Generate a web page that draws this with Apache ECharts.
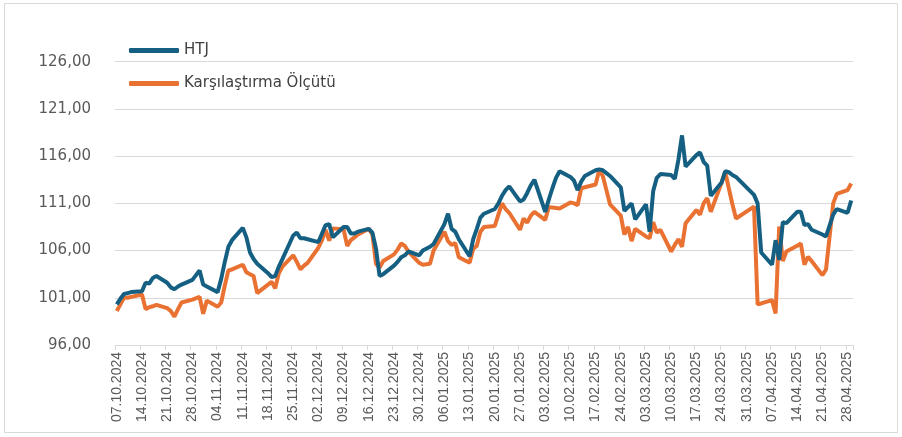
<!DOCTYPE html>
<html>
<head>
<meta charset="utf-8">
<script src="https://cdn.jsdelivr.net/npm/echarts@6/dist/echarts.min.js"></script>
<style>
  html, body { margin: 0; padding: 0; background: #fff; }
  #chart { width: 902px; height: 437px; }
</style>
</head>
<body>
<div id="chart"></div>
<script>
// seri adları
var seriAdlari = ['HTJ', 'Karşılaştırma Ölçütü'];

// borsa tatili olan iş günleri (veri yok)
var tatiller = ['29.10.2024', '01.01.2025', '31.03.2025', '01.04.2025', '23.04.2025'];

// HTJ - iş günü kapanışları (haftalık satırlar)
var htj = [
  100.3, 100.9, 101.4, 101.5, 101.6,
  101.7, 102.6, 102.5, 103.1, 103.3,
  102.6, 102.1, 101.9, 102.2, 102.4,
  102.9, 103.9, 102.4, 102.2,
  101.6, 103.0, 104.8, 106.4, 107.1,
  108.4, 107.4, 105.8, 105.1, 104.6,
  103.6, 103.2, 103.3, 104.3, 105.1,
  107.6, 107.9, 107.3, 107.3, 107.2,
  106.9, 107.8, 108.7, 108.8, 107.4,
  108.5, 108.5, 107.8, 107.8, 108.0,
  108.3, 107.9, 106.2, 103.3, 103.5,
  104.4, 104.8, 105.3, 105.5, 105.9,
  105.5, 106.0, 106.4, 106.7,
  108.8, 109.9, 108.3, 108.0, 107.2,
  105.4, 107.2, 108.3, 109.5, 109.9,
  110.4, 111.0, 111.8, 112.4, 112.8,
  111.2, 111.4, 112.1, 112.9, 113.5,
  110.1, 111.4, 112.6, 113.7, 114.4,
  113.8, 113.4, 112.4, 113.3, 113.9,
  114.5, 114.6, 114.5, 114.2, 113.9,
  112.7, 110.2, 110.6, 111.0, 109.3,
  110.9, 108.0, 112.3, 113.7, 114.1,
  114.0, 113.6, 115.6, 118.2, 114.9,
  116.1, 116.4, 115.4, 115.0, 111.8,
  113.2, 114.4, 114.3, 114.0, 113.8,
  111.9, 111.0, 105.8,
  104.5, 107.1, 105.0, 109.0, 108.9,
  110.1, 110.1, 108.7, 108.8, 108.2,
  107.7, 107.5, 109.8, 110.4,
  110.0, 111.3
];

// Karşılaştırma Ölçütü
var olcut = [
  99.6, 100.3, 101.0, 101.0, 101.1,
  101.35, 99.8, 100.0, 100.1, 100.25,
  99.9, 99.6, 99.0, 99.8, 100.5,
  100.8, 101.1, 99.3, 100.7,
  100.05, 100.5, 102.3, 103.9, 104.0,
  104.5, 103.7, 103.5, 103.3, 101.5,
  102.4, 102.7, 102.0, 103.6, 104.3,
  105.5, 104.8, 104.0, 104.4, 104.7,
  106.3, 107.1, 108.2, 107.05, 108.35,
  108.25, 106.5, 107.1, 107.4, 107.7,
  108.3, 107.7, 104.6, 104.2, 104.9,
  105.6, 106.1, 106.75, 106.5, 105.9,
  104.7, 104.5, 104.6, 106.0,
  108.0, 107.0, 106.6, 106.8, 105.3,
  104.7, 106.2, 106.5, 108.0, 108.5,
  108.6, 109.8, 111.0, 110.4, 110.0,
  108.2, 109.4, 108.95, 109.7, 110.1,
  109.25, 110.6, 110.55, 110.5, 110.45,
  111.1, 111.0, 110.8, 112.6, 112.7,
  113.0, 114.5, 113.9, 112.4, 110.9,
  109.7, 107.7, 108.5, 107.0, 108.3,
  107.5, 107.3, 109.0, 107.9, 108.2,
  105.9, 106.6, 107.2, 106.4, 108.9,
  110.3, 109.8, 111.0, 111.55, 110.1,
  113.2, 114.35, 112.6, 110.9, 109.4,
  110.65, 100.3, 100.4,
  100.75, 99.35, 108.55, 104.9, 105.9,
  106.5, 106.75, 104.5, 105.35, 104.9,
  103.4, 104.0, 111.0, 112.0,
  112.4, 113.1
];

function iki(n) { return (n < 10 ? '0' : '') + n; }
function tarihYaz(d) { return iki(d.getDate()) + '.' + iki(d.getMonth() + 1) + '.' + d.getFullYear(); }

// takvim günleri (eksen kategorileri) ve iş günleri
var takvim = [];
var isGunleri = [];
for (var d = new Date(2024, 9, 7); d <= new Date(2025, 3, 29); d.setDate(d.getDate() + 1)) {
  var t = tarihYaz(d);
  takvim.push(t);
  var g = d.getDay();
  if (g !== 0 && g !== 6 && tatiller.indexOf(t) < 0) isGunleri.push(t);
}

function seriVerisi(arr) {
  return isGunleri.map(function (t, i) { return [t, arr[i]]; });
}

var option = {
  animation: false,
  backgroundColor: '#ffffff',
  graphic: [{
    type: 'rect',
    shape: { x: 4.5, y: 3.5, width: 893, height: 429 },
    style: { fill: 'none', stroke: '#d9d9d9', lineWidth: 1 },
    silent: true
  }],
  legend: {
    orient: 'vertical',
    left: 124,
    top: 38,
    itemGap: 18,
    icon: 'roundRect',
    itemWidth: 50,
    itemHeight: 5,
    textStyle: { color: '#404040', fontSize: 15, fontFamily: 'DejaVu Sans' },
    data: seriAdlari
  },
  grid: { left: 115, right: 49, top: 61.7, bottom: 92, containLabel: false },
  xAxis: {
    type: 'category',
    data: takvim,
    boundaryGap: true,
    axisLine: { lineStyle: { color: '#d9d9d9', width: 1 } },
    axisTick: { show: true, interval: 6, length: 5, lineStyle: { color: '#d9d9d9' } },
    axisLabel: {
      interval: 6,
      rotate: 90,
      margin: 7,
      color: '#595959',
      fontSize: 14,
      fontFamily: 'Liberation Sans'
    },
    splitLine: { show: false }
  },
  yAxis: {
    type: 'value',
    min: 96,
    max: 126,
    interval: 5,
    axisLine: { show: false },
    axisTick: { show: false },
    axisLabel: {
      margin: 24,
      color: '#595959',
      fontSize: 15,
      fontFamily: 'DejaVu Sans',
      formatter: function (v) { return v.toFixed(2).replace('.', ','); }
    },
    splitLine: { lineStyle: { color: '#d9d9d9', width: 1 } }
  },
  series: [
    {
      name: seriAdlari[0],
      type: 'line',
      data: seriVerisi(htj),
      showSymbol: false,
      symbol: 'none',
      color: '#156082',
      lineStyle: { width: 4, color: '#156082' },
      z: 3
    },
    {
      name: seriAdlari[1],
      type: 'line',
      data: seriVerisi(olcut),
      showSymbol: false,
      symbol: 'none',
      color: '#e97132',
      lineStyle: { width: 4, color: '#e97132' },
      z: 2
    }
  ]
};

var myChart = echarts.init(document.getElementById('chart'), null, { renderer: 'canvas' });
myChart.setOption(option);
</script>
</body>
</html>
